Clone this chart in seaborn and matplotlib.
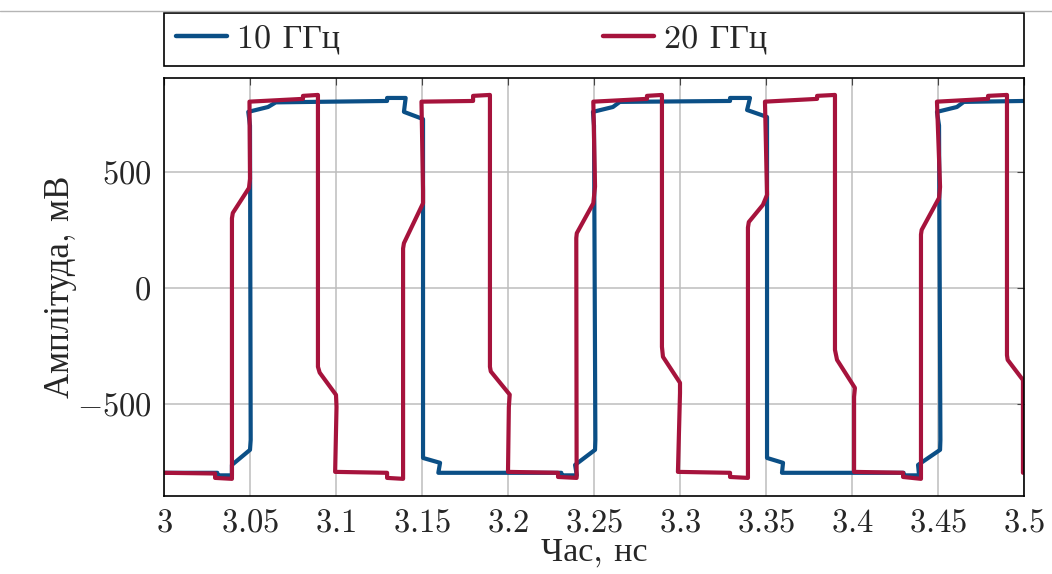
import numpy as np
import pandas as pd
import matplotlib
matplotlib.use("Agg")
import matplotlib.pyplot as plt
from matplotlib.lines import Line2D
from matplotlib.patches import Rectangle
from matplotlib.ticker import FuncFormatter
import seaborn as sns

# 10 GHz trace (time in ns, amplitude in mV)
blue_t = [3.0000, 3.0310, 3.0310, 3.0395, 3.0395, 3.0500, 3.0504, 3.0500, 3.0490,
          3.0605, 3.0650, 3.1297, 3.1297, 3.1405, 3.1395, 3.1506, 3.1506, 3.1605,
          3.1595, 3.2310, 3.2310, 3.2400, 3.2390, 3.2506, 3.2508, 3.2500, 3.2494,
          3.2610, 3.2650, 3.3291, 3.3291, 3.3407, 3.3390, 3.3506, 3.3506, 3.3599,
          3.3593, 3.4300, 3.4300, 3.4390, 3.4384, 3.4512, 3.4514, 3.4506, 3.4494,
          3.4610, 3.4650, 3.5000]
blue_v = [-797, -797, -808, -808, -763, -698, -655, 700, 759,
          780, 800, 806, 819, 819, 759, 728, -733, -754,
          -797, -797, -808, -808, -763, -698, -655, 700, 759,
          780, 802, 806, 819, 819, 767, 737, -733, -754,
          -797, -797, -808, -808, -763, -698, -655, 700, 759,
          780, 802, 806]

# 20 GHz trace
red_t = [3.0000, 3.0297, 3.0297, 3.0395, 3.0395, 3.0400, 3.0494, 3.0500, 3.0497,
         3.0808, 3.0808, 3.0895, 3.0895, 3.0905, 3.1000, 3.1003, 3.0995,
         3.1297, 3.1297, 3.1390, 3.1390, 3.1395, 3.1506, 3.1506, 3.1497,
         3.1797, 3.1797, 3.1895, 3.1895, 3.1900, 3.2010, 3.2005, 3.2000,
         3.2291, 3.2291, 3.2399, 3.2397, 3.2400, 3.2496, 3.2506, 3.2496,
         3.2808, 3.2808, 3.2895, 3.2895, 3.2901, 3.3000, 3.3000, 3.2988,
         3.3291, 3.3291, 3.3395, 3.3395, 3.3400, 3.3482, 3.3506, 3.3494,
         3.3797, 3.3797, 3.3901, 3.3901, 3.3913, 3.4017, 3.4012, 3.4012,
         3.4297, 3.4297, 3.4401, 3.4401, 3.4405, 3.4506, 3.4512, 3.4494,
         3.4791, 3.4791, 3.4901, 3.4901, 3.4905, 3.4994, 3.4994, 3.4994]
red_v = [-797, -800, -819, -823, 300, 323, 431, 470, 803,
         815, 828, 832, -340, -365, -461, -513, -793,
         -797, -819, -823, 170, 193, 365, 420, 803,
         806, 828, 832, -340, -360, -460, -513, -793,
         -797, -815, -819, 215, 236, 365, 437, 803,
         815, 828, 832, -254, -297, -409, -453, -793,
         -797, -815, -819, 260, 284, 358, 401, 803,
         815, 828, 832, -267, -310, -431, -470, -793,
         -797, -815, -823, 230, 250, 388, 435, 803,
         815, 828, 832, -290, -310, -397, -440, -797]

series_names = ["10 ГГц", "20 ГГц"]
colors = {"10 ГГц": "#0b4f86", "20 ГГц": "#a6133c"}

x_ticks = [3.0, 3.05, 3.1, 3.15, 3.2, 3.25, 3.3, 3.35, 3.4, 3.45, 3.5]
y_ticks = [-500, 0, 500]

traces = {series_names[0]: (blue_t, blue_v), series_names[1]: (red_t, red_v)}

sns.set_style("white")
plt.rcParams["font.family"] = ["cmr10", "Liberation Serif"]
plt.rcParams["mathtext.fontset"] = "cm"
plt.rcParams["axes.unicode_minus"] = False
fs = 23.5

fig = plt.figure(figsize=(10.52, 5.74), dpi=100)
ax = fig.add_axes([164 / 1052, 1 - 496 / 574, 860 / 1052, 418 / 574])

# the traces are paths (vertical edges, small back-steps), so keep the point order
for name in series_names:
    t, v = traces[name]
    sns.lineplot(x=t, y=v, sort=False, estimator=None, color=colors[name],
                 linewidth=3.0, ax=ax)

ax.set_xlim(3.0, 3.5)
ax.set_ylim(-897, 905)
ax.set_xticks(x_ticks)
ax.set_yticks(y_ticks)
fmt = FuncFormatter(lambda v, _: f"${v:g}$")
ax.xaxis.set_major_formatter(fmt)
ax.yaxis.set_major_formatter(fmt)
ax.grid(True, color="#bdbdbd", linewidth=1.1)
ax.set_axisbelow(True)
for sp in ax.spines.values():
    sp.set_color("black")
    sp.set_linewidth(1.2)
ax.tick_params(direction="in", length=5, width=0.8, top=True, right=True,
               labelsize=fs, pad=9, color="#444444")

ax.set_xlabel("Час, нс", fontsize=fs + 1, labelpad=0)
ax.set_ylabel("Амплітуда, мВ", fontsize=fs + 1.5, labelpad=0)

# legend box spanning the axes width, entries at fixed positions
box_y, box_h = 1 + 12 / 418, 53 / 418
ax.add_patch(Rectangle((0, box_y), 1, box_h, transform=ax.transAxes, fill=False,
                       edgecolor="black", linewidth=1.2, clip_on=False))
entry_x = [12 / 860, 439 / 860]
legends = []
for name, x0 in zip(series_names, entry_x):
    h = Line2D([], [], color=colors[name], linewidth=3.2)
    leg = ax.legend([h], [name], loc="center left", bbox_to_anchor=(x0, box_y + box_h / 2),
                    frameon=False, fontsize=fs + 1, borderpad=0, borderaxespad=0,
                    handlelength=1.5, handletextpad=0.3)
    legends.append(leg)
ax.add_artist(legends[0])

fig.add_artist(Line2D([0, 1], [1 - 11 / 574, 1 - 11 / 574], transform=fig.transFigure,
                      color="#b5b5b5", linewidth=1))

fig.savefig("out.png", dpi=100)
